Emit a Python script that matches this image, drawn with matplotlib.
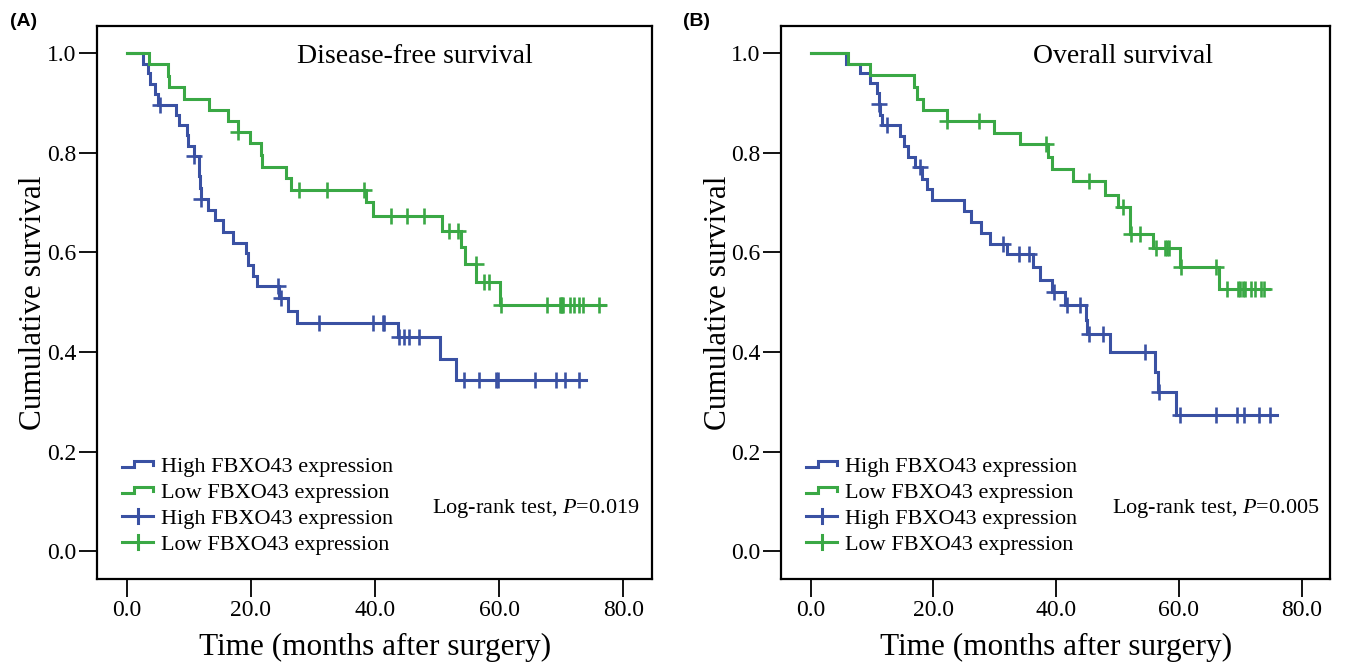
import numpy as np
import matplotlib
matplotlib.use("Agg")
import matplotlib.pyplot as plt
from matplotlib.lines import Line2D
from matplotlib.legend_handler import HandlerBase

plt.rcParams['font.family'] = ['Liberation Serif', 'DejaVu Serif']
plt.rcParams['mathtext.fontset'] = 'custom'
plt.rcParams['mathtext.rm'] = 'Liberation Serif'
plt.rcParams['mathtext.it'] = 'Liberation Serif:italic'

BLUE = '#3a51a3'
GREEN = '#3aa845'

# ---- Panel A: disease-free survival ----
dfs_high_t = [0, 2.6, 3.4, 3.7, 4.6, 5.0, 7.9, 8.4, 9.7, 9.9, 10.9, 11.6, 11.7, 11.8, 11.9,
              13.1, 14.2, 15.5, 17.1, 19.2, 19.5, 20.3, 21.0, 24.6, 26.0, 27.4, 43.7, 50.5, 53.0]
dfs_high_s = [1.0, .978, .961, .939, .919, .897, .877, .857, .836, .814, .793, .773, .753, .730, .708,
              .686, .666, .642, .619, .598, .575, .553, .532, .508, .483, .459, .431, .386, .344]
dfs_high_end = 73.9
dfs_high_cens = [5.4, 10.9, 12.0, 24.3, 24.8, 31.0, 39.6, 41.2, 41.5, 43.8, 44.6, 45.5, 47.0,
                 54.3, 56.7, 59.5, 59.8, 65.8, 69.2, 70.5, 72.9]

dfs_low_t = [0, 3.6, 6.6, 6.8, 9.2, 13.3, 16.3, 17.9, 19.8, 21.6, 21.8, 25.7, 26.4,
             38.6, 39.7, 50.7, 53.8, 54.4, 56.3, 60.1]
dfs_low_s = [1.0, .978, .955, .932, .909, .887, .864, .843, .820, .795, .772, .750, .725,
             .701, .673, .644, .611, .577, .541, .495]
dfs_low_end = 77.1
dfs_low_cens = [17.9, 27.8, 32.2, 38.2, 42.5, 45.1, 47.8, 51.9, 53.4, 56.2, 57.5, 58.3, 60.3,
                67.7, 69.7, 69.9, 70.1, 70.3, 71.4, 72.0, 72.9, 73.5, 76.1]

# ---- Panel B: overall survival ----
os_high_t = [0, 5.7, 8.1, 9.7, 10.8, 11.1, 11.3, 11.6, 14.5, 15.2, 15.9, 17.0, 18.1, 19.0, 19.8,
             25.0, 26.2, 27.7, 29.2, 32.0, 36.3, 37.4, 39.4, 41.4, 44.9, 45.1, 48.7, 56.1, 56.6, 59.6]
os_high_s = [1.0, .979, .960, .940, .920, .899, .877, .857, .834, .813, .792, .771, .748, .728, .706,
             .684, .661, .639, .617, .596, .571, .545, .520, .495, .465, .437, .400, .360, .320, .274]
os_high_end = 75.9
os_high_cens = [11.1, 12.4, 17.9, 31.4, 34.0, 35.6, 39.6, 41.7, 43.9, 45.4, 47.7, 54.5, 56.7,
                60.2, 66.1, 69.4, 70.6, 73.1, 74.8]

os_low_t = [0, 6.1, 9.7, 16.9, 17.4, 18.3, 22.3, 29.8, 34.1, 38.7, 39.4, 42.7, 48.0, 50.0,
            52.0, 52.1, 55.7, 60.2, 66.6]
os_low_s = [1.0, .979, .956, .933, .909, .887, .864, .840, .817, .792, .767, .743, .716, .692,
            .663, .638, .609, .571, .527]
os_low_end = 74.7
os_low_cens = [22.3, 27.4, 38.4, 45.3, 50.9, 52.2, 53.6, 56.3, 57.7, 58.0, 58.4, 60.3, 66.1,
               67.8, 69.6, 70.0, 70.4, 70.7, 71.7, 72.4, 73.3, 73.9]

labels = ['High FBXO43 expression', 'Low FBXO43 expression',
          'High FBXO43 expression', 'Low FBXO43 expression']


class StepHandler(HandlerBase):
    # little step icon used by the legend
    def create_artists(self, legend, orig, xd, yd, w, h, fontsize, trans):
        x0, y0 = -xd, -yd
        xs = [x0, x0 + 0.38 * w, x0 + 0.38 * w, x0 + w, x0 + w]
        ys = [y0 + 0.3 * h, y0 + 0.3 * h, y0 + 0.72 * h, y0 + 0.72 * h, y0 + 0.45 * h]
        ln = Line2D(xs, ys, color=orig.get_color(), lw=2.2,
                    solid_joinstyle='miter', transform=trans)
        return [ln]


class CrossHandler(HandlerBase):
    # wide "+" icon for the censoring marks
    def create_artists(self, legend, orig, xd, yd, w, h, fontsize, trans):
        x0, y0 = -xd, -yd
        c = orig.get_color()
        hl = Line2D([x0, x0 + w], [y0 + 0.5 * h, y0 + 0.5 * h], color=c, lw=2.2, transform=trans)
        vl = Line2D([x0 + 0.5 * w, x0 + 0.5 * w], [y0 + 0.05 * h, y0 + 0.95 * h], color=c, lw=2.2,
                    transform=trans)
        return [hl, vl]


def km(ax, t, s, end, cens, color):
    tt = list(t) + [end]
    ss = list(s) + [s[-1]]
    ln, = ax.step(tt, ss, where='post', color=color, lw=2.2, solid_joinstyle='miter')
    idx = np.searchsorted(np.array(t), np.array(cens), side='right') - 1
    cy = np.array(s)[idx]
    mk, = ax.plot(cens, cy, '+', color=color, ms=11, mew=1.9, ls='none')
    return ln, mk


def panel(ax, curves, title, tx, ptext):
    handles = []
    for c in curves:
        handles.append(km(ax, *c))
    ax.set_xlim(-4.75, 84.6)
    ax.set_ylim(-0.056, 1.055)
    ax.set_xticks(np.arange(0, 81, 20))
    ax.set_yticks(np.arange(0, 1.01, 0.2))
    ax.xaxis.set_major_formatter(matplotlib.ticker.FormatStrFormatter('%.1f'))
    ax.yaxis.set_major_formatter(matplotlib.ticker.FormatStrFormatter('%.1f'))
    ax.tick_params(direction='out', length=13, width=1.3, labelsize=17, pad=2)
    for sp in ax.spines.values():
        sp.set_linewidth(1.6)
    ax.set_xlabel('Time (months after surgery)', fontsize=22.5, labelpad=9)
    ax.set_ylabel('Cumulative survival', fontsize=22.5, labelpad=-1)
    ax.text(tx, 0.944, title, transform=ax.transAxes, fontsize=20, ha='center', va='center')
    ax.text(0.603, 0.127, ptext, transform=ax.transAxes, fontsize=16, ha='left', va='center')
    lh = [handles[0][0], handles[1][0], handles[0][1], handles[1][1]]
    ax.legend(lh, labels, loc='upper left', bbox_to_anchor=(0.045, 0.222), frameon=False,
              fontsize=16, handlelength=1.4, handletextpad=0.35, labelspacing=0.25,
              borderpad=0, borderaxespad=0,
              handler_map={handles[0][0]: StepHandler(), handles[1][0]: StepHandler(),
                           handles[0][1]: CrossHandler(), handles[1][1]: CrossHandler()})


fig = plt.figure(figsize=(13.45, 6.65), dpi=100)
axA = fig.add_axes([0.0723, 0.1293, 0.4125, 0.8316])
axB = fig.add_axes([0.581, 0.1293, 0.4078, 0.8316])

panel(axA, [(dfs_high_t, dfs_high_s, dfs_high_end, dfs_high_cens, BLUE),
            (dfs_low_t, dfs_low_s, dfs_low_end, dfs_low_cens, GREEN)],
      'Disease-free survival', 0.572, 'Log-rank test, $P$=0.019')
panel(axB, [(os_high_t, os_high_s, os_high_end, os_high_cens, BLUE),
            (os_low_t, os_low_s, os_low_end, os_low_cens, GREEN)],
      'Overall survival', 0.623, 'Log-rank test, $P$=0.005')

fig.text(0.0075, 0.967, '(A)', fontsize=14, fontweight='bold', family='Liberation Sans', va='center')
fig.text(0.508, 0.967, '(B)', fontsize=14, fontweight='bold', family='Liberation Sans', va='center')

fig.savefig('out.png', dpi=100)
